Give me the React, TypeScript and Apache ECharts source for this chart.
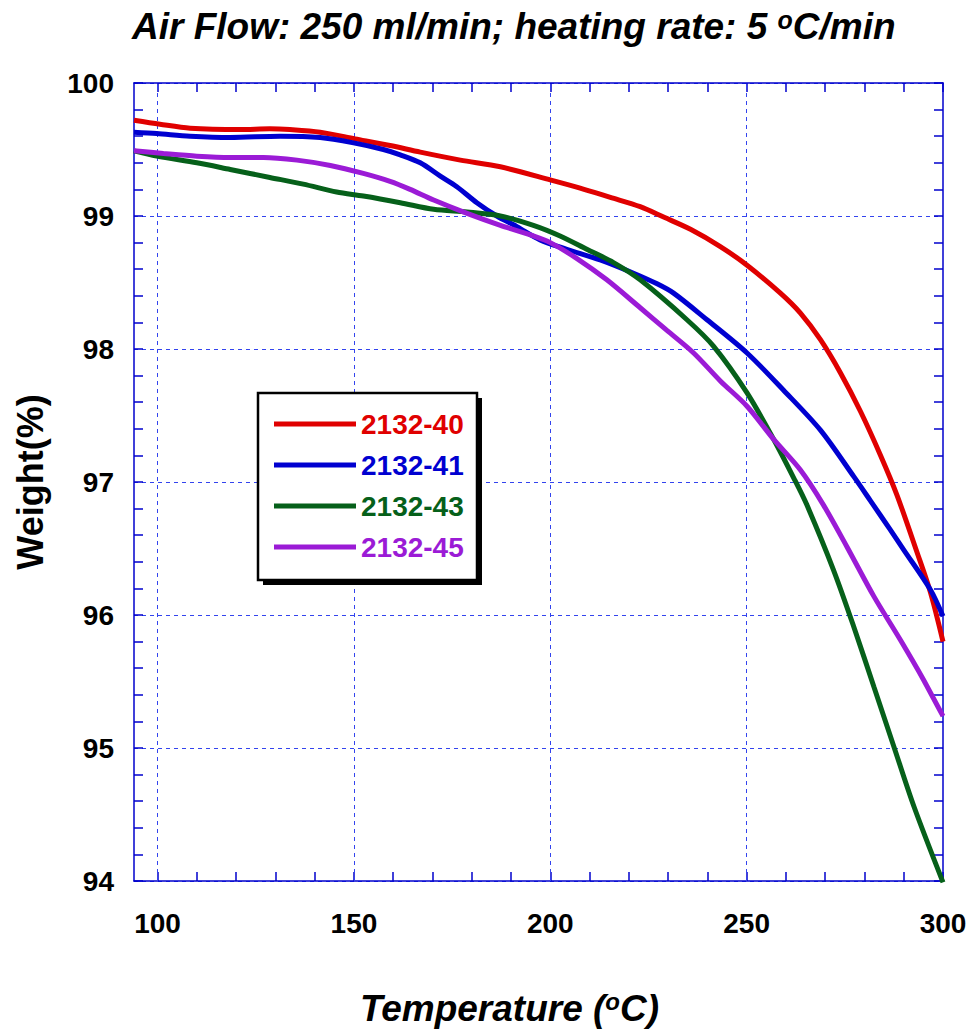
import React, { useEffect, useRef } from "react";
import * as echarts from "echarts";

const seriesNames = ["2132-40", "2132-41", "2132-43", "2132-45"];
const seriesColors = ["#e00000", "#0000d0", "#06601a", "#9b1bd6"];

const red40: [number, number][] = [
  [94, 99.72], [100.6, 99.69], [108.3, 99.66], [121, 99.65], [128.6, 99.656], [133.7, 99.65],
  [141.4, 99.63], [150.3, 99.58], [159.2, 99.53], [166.9, 99.48], [177.1, 99.42], [187.3, 99.37],
  [200.2, 99.27], [207.6, 99.21], [215.3, 99.14], [222.9, 99.07], [229, 98.99], [235.7, 98.9],
  [243.3, 98.77], [250.1, 98.63], [258.6, 98.42], [263.7, 98.27], [268.8, 98.07], [273.9, 97.82],
  [279.0, 97.53], [284.1, 97.2], [288.3, 96.9], [293.4, 96.47], [296.8, 96.17], [300, 95.8],
];
const blue41: [number, number][] = [
  [94, 99.63], [99.8, 99.62], [108.3, 99.6], [118.5, 99.59], [131.2, 99.6], [141.4, 99.59],
  [149.9, 99.55], [157.5, 99.5], [161.8, 99.46], [166.9, 99.4], [172, 99.3], [176.2, 99.22],
  [181.3, 99.1], [186.4, 99.0], [191.5, 98.92], [197.4, 98.82], [204.2, 98.75], [212.7, 98.67],
  [221.2, 98.57], [227.2, 98.49], [231.4, 98.42], [239.9, 98.22], [250.1, 97.97], [259.4, 97.69],
  [268.8, 97.39], [277.3, 97.04], [281.5, 96.86], [286.6, 96.64], [290.0, 96.49], [296.8, 96.19],
  [300, 95.99],
];
const green43: [number, number][] = [
  [94, 99.49], [99.8, 99.45], [110, 99.4], [118.5, 99.35], [128.6, 99.29], [137.1, 99.24],
  [145.6, 99.18], [152.4, 99.15], [161.8, 99.1], [170.3, 99.05], [178.8, 99.03], [187.3, 99.0],
  [195.7, 98.93], [202.5, 98.85], [209.3, 98.75], [216.1, 98.65], [222.9, 98.52], [234.8, 98.22],
  [241.6, 98.02], [250.1, 97.67], [256.9, 97.32], [262.0, 97.03], [265.3, 96.83], [272.1, 96.34],
  [277.3, 95.91], [282.4, 95.46], [287.5, 95.01], [292.6, 94.56], [300, 93.99],
];
const purple45: [number, number][] = [
  [94, 99.49], [101.5, 99.47], [110, 99.45], [118.5, 99.44], [127, 99.44], [135.5, 99.42],
  [144, 99.38], [152.4, 99.32], [159.2, 99.26], [164.3, 99.2], [170.3, 99.12], [178.8, 99.02],
  [187.3, 98.93], [195.7, 98.85], [200, 98.8], [206.8, 98.68], [214.4, 98.52], [222.9, 98.31],
  [229.7, 98.14], [236.5, 97.97], [243.3, 97.76], [250.1, 97.57], [256.9, 97.32], [263.7, 97.09],
  [269.5, 96.83], [275.6, 96.51], [282.4, 96.14], [289.2, 95.81], [295.1, 95.51], [300, 95.24],
];
const seriesData = [red40, blue41, green43, purple45];

const xLabelValues = [100, 150, 200, 250, 300];
const xTickValues = [100, 110, 120, 130, 140, 150, 160, 170, 180, 190, 200, 210, 220, 230, 240, 250, 260, 270, 280, 290, 300];
const xGridValues = [100, 150, 200, 250];

const FONT = "'Liberation Sans', Arial, sans-serif";
const AXIS_BLUE = "#0000cc";
const GRID_BLUE = "#3344ee";

export default function App() {
  const ref = useRef<HTMLDivElement>(null);
  useEffect(() => {
    if (!ref.current) return;
    const chart = echarts.init(ref.current, null, { renderer: "svg" });
    const axisCommon = {
      min: 94,
      axisLine: { show: true, lineStyle: { color: AXIS_BLUE, width: 1.5 } },
    };
    const option: any = {
      animation: false,
      backgroundColor: "#fff",
      textStyle: { fontFamily: FONT },
      title: {
        text: "Air Flow: 250 ml/min; heating rate: 5 {sup|o}C/min",
        left: 127,
        top: 2,
        textStyle: {
          fontFamily: FONT,
          fontSize: 37,
          fontWeight: "bold",
          fontStyle: "italic",
          color: "#000",
          rich: {
            sup: { fontSize: 25, fontWeight: "bold", fontStyle: "italic", padding: [0, 0, 14, 0], fontFamily: FONT },
          },
        },
      },
      grid: { left: 134, top: 83, right: 27, bottom: 152, containLabel: false, outerBoundsMode: "none" },
      xAxis: [
        {
          type: "value",
          ...axisCommon,
          min: 94,
          max: 300,
          position: "bottom",
          axisTick: { show: true, inside: true, length: 9, customValues: xTickValues, lineStyle: { color: AXIS_BLUE, width: 1.5 } },
          axisLabel: { customValues: xLabelValues, fontFamily: FONT, fontSize: 28, fontWeight: "bold", color: "#000", margin: 28 },
          splitLine: { show: false },
          name: "Temperature ({sup|o}C)",
          nameLocation: "middle",
          nameGap: 108,
          nameTextStyle: {
            fontFamily: FONT,
            fontSize: 37,
            fontWeight: "bold",
            fontStyle: "italic",
            color: "#000",
            padding: [0, 58, 0, 0],
            rich: { sup: { fontSize: 24, fontWeight: "bold", fontStyle: "italic", padding: [0, 0, 14, 0], fontFamily: FONT } },
          },
        },
        {
          type: "value",
          ...axisCommon,
          min: 94,
          max: 300,
          position: "top",
          axisTick: { show: true, inside: true, length: 9, customValues: xTickValues, lineStyle: { color: AXIS_BLUE, width: 1.5 } },
          axisLabel: { show: false },
          splitLine: { show: false },
        },
      ],
      yAxis: [
        {
          type: "value",
          ...axisCommon,
          max: 100,
          interval: 1,
          position: "left",
          axisTick: { show: true, inside: true, length: 9, lineStyle: { color: AXIS_BLUE, width: 1.5 } },
          minorTick: { show: true, splitNumber: 5, length: 9, lineStyle: { color: AXIS_BLUE, width: 1.5 } },
          axisLabel: { fontFamily: FONT, fontSize: 28, fontWeight: "bold", color: "#000", margin: 20 },
          splitLine: { show: true, lineStyle: { color: GRID_BLUE, type: [4, 4], width: 1 } },
          name: "Weight(%)",
          nameLocation: "middle",
          nameGap: 86,
          nameRotate: 90,
          nameTextStyle: { fontFamily: FONT, fontSize: 36, fontWeight: "bold", color: "#000" },
        },
        {
          type: "value",
          ...axisCommon,
          max: 100,
          interval: 1,
          position: "right",
          axisTick: { show: true, inside: true, length: 9, lineStyle: { color: AXIS_BLUE, width: 1.5 } },
          minorTick: { show: true, splitNumber: 5, length: 9, lineStyle: { color: AXIS_BLUE, width: 1.5 } },
          axisLabel: { show: false },
          splitLine: { show: false },
        },
      ],
      legend: {
        orient: "vertical",
        left: 258,
        top: 393,
        padding: [16, 14, 14, 16],
        itemWidth: 82,
        itemHeight: 5,
        itemGap: 11,
        icon: "rect",
        z: 10,
        textStyle: { fontFamily: FONT, fontSize: 28, fontWeight: "bold", lineHeight: 30 },
        data: seriesNames.map((n, i) => ({ name: n, textStyle: { color: seriesColors[i] } })),
      },
      graphic: [
        { type: "rect", z: 5, shape: { x: 263, y: 398, width: 219, height: 187 }, style: { fill: "#000" } },
        { type: "rect", z: 6, shape: { x: 258, y: 393, width: 219, height: 187 }, style: { fill: "#fff", stroke: "#000", lineWidth: 2.5 } },
      ],
      series: seriesNames.map((n, i) => ({
        name: n,
        type: "line",
        data: seriesData[i],
        showSymbol: false,
        symbol: "none",
        smooth: 0.3,
        lineStyle: { color: seriesColors[i], width: 5 },
        itemStyle: { color: seriesColors[i] },
        z: 3,
        ...(i === 0
          ? {
              markLine: {
                silent: true,
                symbol: "none",
                label: { show: false },
                z: 1,
                lineStyle: { color: GRID_BLUE, type: [4, 4], width: 1 },
                data: xGridValues.map((v) => ({ xAxis: v })),
              },
            }
          : {}),
      })),
    };
    chart.setOption(option);
    return () => chart.dispose();
  }, []);
  return (
    <div
      ref={ref}
      style={{ position: "absolute", left: 0, top: 0, width: 970, height: 1033 }}
    />
  );
}
